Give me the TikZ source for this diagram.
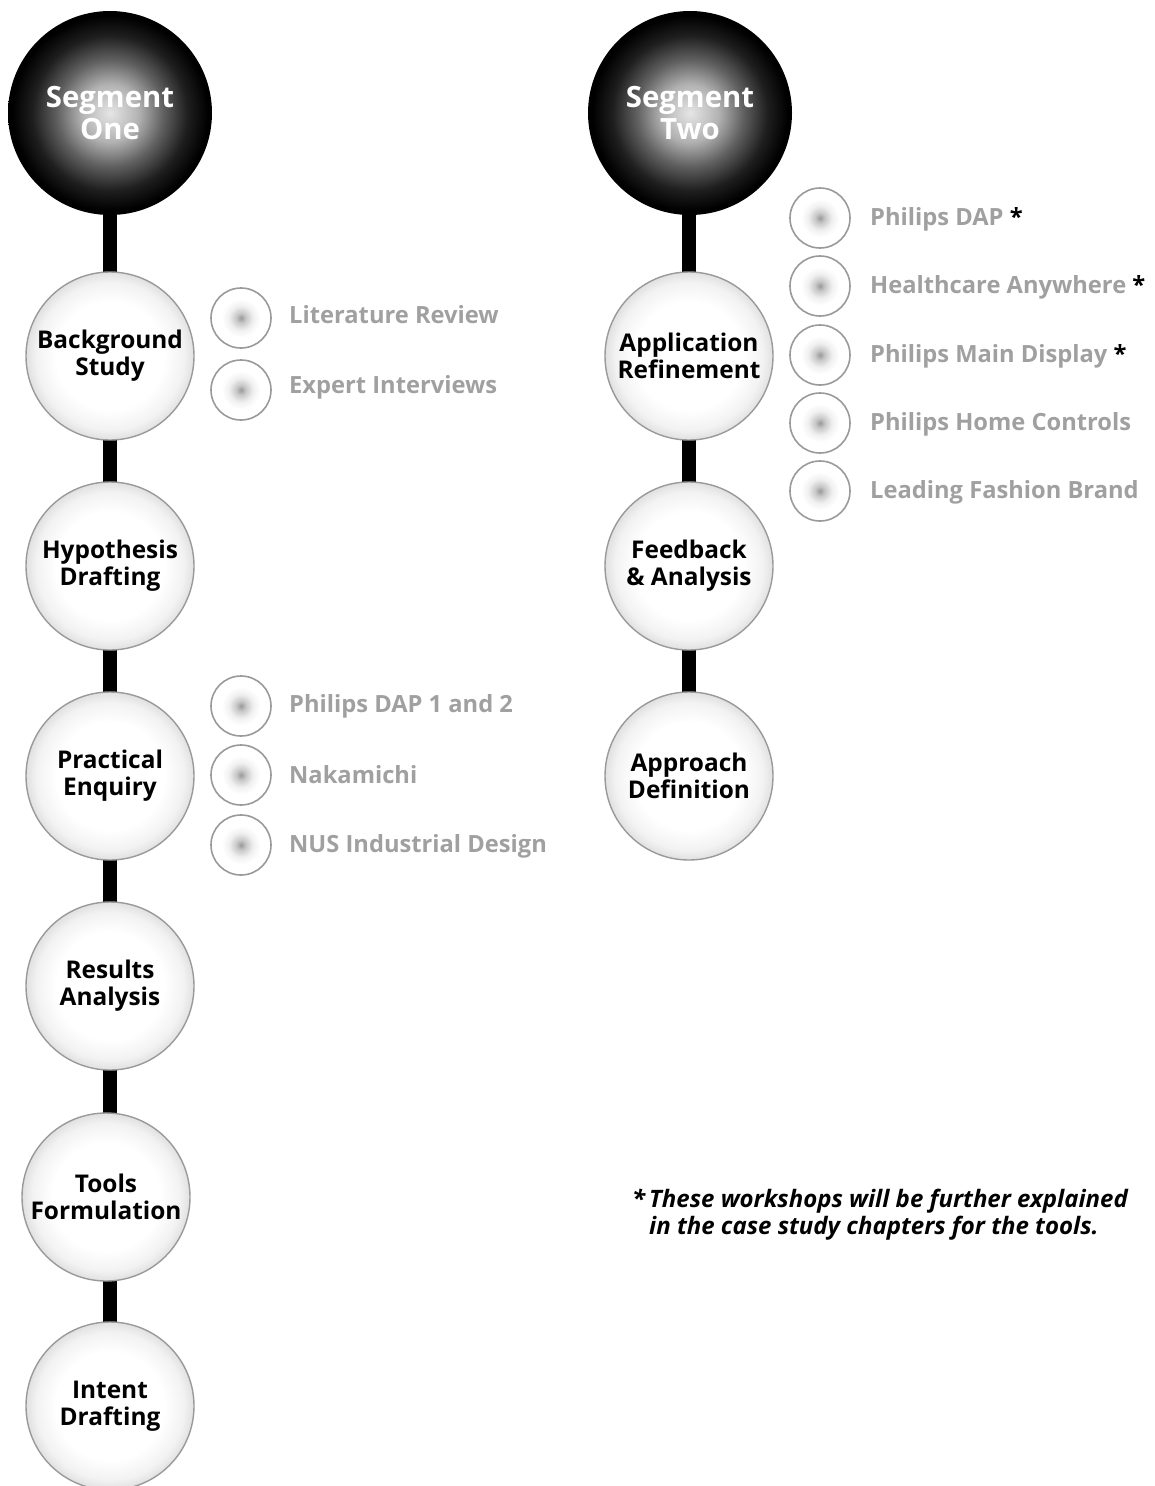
\documentclass[tikz,border=0pt]{standalone}
\usepackage{fontspec}
\setmainfont{Open Sans}

% shadings for the three kinds of balls (the rim of a circle sits at 25bp)
\pgfdeclareradialshading{segball}{\pgfpoint{0bp}{0bp}}{%
  color(0bp)=(black!10); color(7bp)=(black!30); color(13bp)=(black!62);
  color(19bp)=(black!88); color(24bp)=(black); color(50bp)=(black)}
\pgfdeclareradialshading{stageball}{\pgfpoint{0bp}{0bp}}{%
  color(0bp)=(white); color(16bp)=(white); color(22bp)=(black!5);
  color(25bp)=(black!12); color(50bp)=(black!12)}
\pgfdeclareradialshading{itemball}{\pgfpoint{0bp}{0bp}}{%
  color(0bp)=(black!40); color(4bp)=(black!22); color(10bp)=(black!6);
  color(16bp)=(white); color(50bp)=(white)}

\definecolor{itemgray}{HTML}{A0A0A0}
\definecolor{ringgray}{HTML}{9A9A9A}

\tikzset{
  segment/.style={circle, minimum size=204pt, inner sep=0pt,
    shading=segball, text=white, align=center,
    font=\bfseries\fontsize{29.3}{31.5}\selectfont},
  stage/.style={circle, minimum size=168pt, inner sep=0pt,
    shading=stageball, draw=ringgray, line width=1.4pt, align=center,
    font=\bfseries\fontsize{24.4}{27}\selectfont},
  item/.style={circle, minimum size=60pt, inner sep=0pt,
    shading=itemball, draw=ringgray, line width=1.6pt},
  itemlabel/.style={anchor=west, text=itemgray, inner sep=0pt,
    font=\bfseries\fontsize{23.7}{26}\selectfont},
  link/.style={line width=14pt, black},
}

\pgfdeclarelayer{bars}
\pgfsetlayers{bars,main}

\begin{document}
\begin{tikzpicture}[x=1pt,y=-1pt]
\useasboundingbox (0,0) rectangle (1155,1486);

% column one
\node[segment] (s1) at (110,113) {Segment\\One};
\node[stage] (bg) at (110,356) {Background\\Study};
\node[stage] (hy) at (110,566) {Hypothesis\\Drafting};
\node[stage] (pr) at (110,776) {Practical\\Enquiry};
\node[stage] (re) at (110,986) {Results\\Analysis};
\node[stage] (to) at (106,1197) {Tools\\Formulation};
\node[stage] (in) at (110,1406) {Intent\\Drafting};

% column two
\node[segment] (s2) at (690,113) {Segment\\Two};
\node[stage] (ap) at (689,356) {Application\\Refinement};
\node[stage] (fb) at (689,566) {Feedback\\\&~Analysis};
\node[stage] (ad) at (689,776) {Approach\\Definition};

% links between the stages, drawn behind the balls
\begin{pgfonlayer}{bars}
  \draw[link] (s1.center) -- (bg.center) -- (hy.center) -- (pr.center)
    -- (re.center) -- (re.center |- to.center) -- (re.center |- in.center);
  \draw[link] (ap.center |- s2.center) -- (ap.center) -- (fb.center)
    -- (ad.center);
\end{pgfonlayer}

% items of background study
\node[item] (lr) at (241,318) {};
\node[itemlabel] (lrt) at (289,315) {Literature Review};
\node[item] (ei) at (241,390) {};
\node[itemlabel] (eit) at (289,387) {Expert Interviews};

% items of practical enquiry
\node[item] (pd) at (241,706) {};
\node[itemlabel] (pdt) at (289,706) {Philips DAP 1 and 2};
\node[item] (nk) at (241,775) {};
\node[itemlabel] (nkt) at (289,775) {Nakamichi};
\node[item] (nu) at (241,845) {};
\node[itemlabel] (nut) at (289,846) {NUS Industrial Design};

% items of application refinement
\node[item] (w1) at (820,218) {};
\node[itemlabel] (w1t) at (870,219) {Philips DAP \textcolor{black}{*}};
\node[item] (w2) at (820,286) {};
\node[itemlabel] (w2t) at (870,287) {Healthcare Anywhere \textcolor{black}{*}};
\node[item] (w3) at (820,355) {};
\node[itemlabel] (w3t) at (870,356) {Philips Main Display \textcolor{black}{*}};
\node[item] (w4) at (820,423) {};
\node[itemlabel] (w4t) at (870,424) {Philips Home Controls};
\node[item] (w5) at (820,491) {};
\node[itemlabel] (w5t) at (870,492) {Leading Fashion Brand};

% footnote
\node[anchor=north west, align=left, inner sep=0pt,
  font=\bfseries\itshape\fontsize{24}{27}\selectfont]
  (note) at (649,1189)
  {\llap{*\,}These workshops will be further explained\\in the case study chapters for the tools.};
\end{tikzpicture}
\end{document}
